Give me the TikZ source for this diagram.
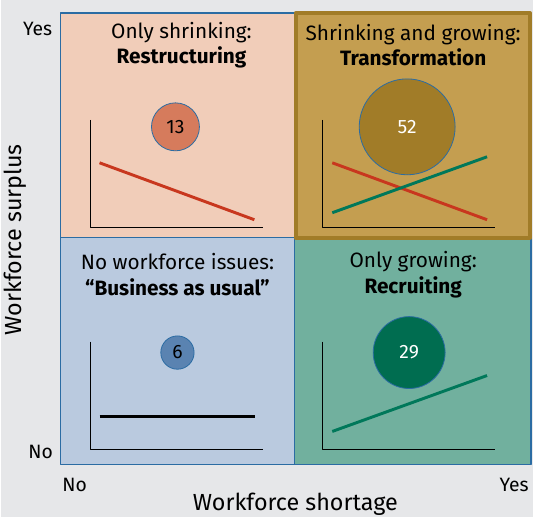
\documentclass[tikz,border=0pt]{standalone}
\usepackage{fontspec}
\setmainfont{Fira Sans}
\usetikzlibrary{positioning}
\definecolor{bggray}{HTML}{E6E7E9}
\definecolor{peach}{HTML}{F1CDB9}
\definecolor{goldfill}{HTML}{C49E50}
\definecolor{golddark}{HTML}{A17C28}
\definecolor{bluefill}{HTML}{BACADF}
\definecolor{tealfill}{HTML}{71B09E}
\definecolor{quadline}{HTML}{2B6CA3}
\definecolor{redline}{HTML}{C8371E}
\definecolor{greenline}{HTML}{00785A}
\tikzset{
	quad/.style={fill=#1, draw=quadline, line width=.8pt},
	title/.style={align=center, font=\fontsize{15.6}{19}\selectfont},
	bubble/.style={circle, draw=quadline, line width=.6pt, inner sep=0pt, font=\fontsize{14.5}{16}\selectfont},
	trend/.style={line width=2.2pt, #1},
	axislabel/.style={font=\fontsize{14.5}{16}\selectfont}
}
\begin{document}
\begin{tikzpicture}[x=.75pt, y=-.75pt, line join=round]
	\def\xl{60} \def\xm{294} \def\xr{531}
	\def\yt{13} \def\ym{238} \def\yb{465}
	\fill[bggray] (0,0) rectangle (533,518);
	% the four fields
	\draw[quad=peach] (\xl,\yt) rectangle (\xm,\ym);
	\draw[quad=bluefill] (\xl,\ym) rectangle (\xm,\yb);
	\draw[quad=tealfill] (\xm,\ym) rectangle (\xr,\yb);
	\draw[fill=goldfill, draw=golddark, line width=3pt] (295.5,13) rectangle (530,238);
	% titles
	\node[title] (tl) at (181,45) {Only shrinking:\\\textbf{Restructuring}};
	\node[title] (tr) at (413,45) {Shrinking and growing:\\\textbf{Transformation}};
	\node[title] (bl) at (177,275) {No workforce issues:\\\textbf{“Business as usual”}};
	\node[title] (br) at (413,275) {Only growing:\\\textbf{Recruiting}};
	% bubbles
	\node[bubble, fill={rgb,255:red,214;green,123;blue,92}, minimum size=36pt] (n13) at (175,127) {13};
	\node[bubble, fill=golddark, text=white, minimum size=72pt] (n52) at (407,127) {52};
	\node[bubble, fill={rgb,255:red,90;green,131;blue,177}, minimum size=25pt] (n6) at (177,353) {6};
	\node[bubble, fill={rgb,255:red,0;green,109;blue,80}, text=white, minimum size=54pt] (n29) at (409,353) {29};
	% small charts
	\foreach \ox/\oy in {90/228, 322/228, 90/450, 322/450}
		\draw[line width=1pt] (\ox,\oy-108) -- (\ox,\oy) -- (\ox+173,\oy);
	\draw[trend=redline] (99,163) -- (254,220);
	\draw[trend=redline] (332,163) -- (487,220);
	\draw[trend=greenline] (332,213) -- (487,157);
	\draw[trend=black] (99,417) -- (255,417);
	\draw[trend=greenline] (332,432) -- (487,376);
	% axis labels
	\node[axislabel] (ytop) at (37,29) {Yes};
	\node[axislabel] (ybot) at (40,453) {No};
	\node[axislabel] (xleft) at (74,486) {No};
	\node[axislabel] (xright) at (514,486) {Yes};
	\node[axislabel, font=\fontsize{17.5}{20}\selectfont] (xtitle) at (295,505) {Workforce shortage};
	\node[axislabel, font=\fontsize{17.5}{20}\selectfont, rotate=90] (ytitle) at (15,240) {Workforce surplus};
\end{tikzpicture}
\end{document}
